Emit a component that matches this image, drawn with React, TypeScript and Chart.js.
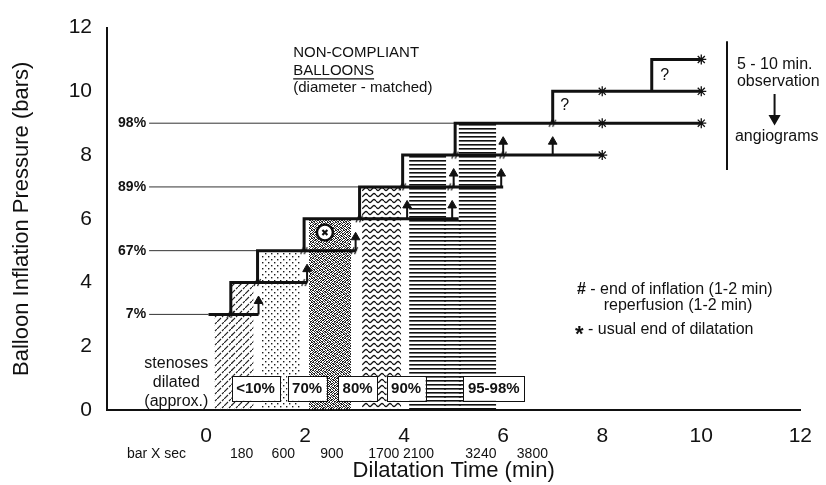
import React, { useEffect, useRef } from 'react';
import { Chart, registerables } from 'chart.js';

Chart.register(...registerables);

const FONT = '"Liberation Sans", Arial, Helvetica, sans-serif';
const INK = '#111111';

// ---- staircase (balloon pressure levels, bars) ----
const levels = [3, 4, 5, 6, 7, 8, 9, 10, 11];
const levelStart = [0.05, 0.5, 1.04, 1.98, 3.1, 3.97, 5.03, 7.0, 9.0];
const levelEnd = [1.06, 2.04, 3.02, 5.1, 6.0, 8.0, 10.0, 10.0, 10.0];

// reperfusion arrows
const arrowLevels = [3, 4, 5, 6, 6, 7, 7, 8, 8];
const arrowTimes = [1.06, 2.04, 3.02, 4.06, 4.97, 5.0, 5.96, 6.0, 7.0];
const arrowLength = 0.5;

// usual end of dilatation (*)
const starLevels = [8, 9, 9, 10, 10, 11];
const starTimes = [8, 8, 10, 8, 10, 10];

// end of inflation (#)
const hashLevels = [3, 4, 5, 6, 7, 8, 9, 4, 5, 7, 8];
const hashTimes = [0.5, 1.04, 1.98, 3.1, 3.97, 5.03, 7.0, 2.0, 3.0, 4.95, 6.0];

// reference percentage lines
const pctLabels = ['7%', '67%', '89%', '98%'];
const pctLevels = [3, 5, 7, 9];
const pctEnds = [0.05, 1.04, 3.1, 5.03];
const pctStart = -1.15;

// patterned areas (stenoses dilated)
const areaStart = [0.16, 0.5, 1.12, 2.08, 3.15, 4.1, 4.8, 5.1];
const areaEnd = [0.54, 0.96, 1.9, 2.93, 3.94, 4.85, 5.15, 5.86];
const areaTop = [3, 4, 5, 6, 7, 8, 6, 9];
const areaKind = ['hatch', 'hatch', 'dots', 'stipple', 'wavy', 'lines', 'lines', 'lines'];

const stenosisLabels = ['<10%', '70%', '80%', '90%', '95-98%'];
const stenosisX = [1.0, 2.04, 3.06, 4.04, 5.81];
const stenosisY = 0.68;

// secondary x labels (bar X sec)
const barSecLabels = ['180', '600', '900', '1700', '2100', '3240', '3800'];
const barSecX = [0.72, 1.56, 2.54, 3.59, 4.29, 5.55, 6.59];

// circled x marker
const circleX = [{ x: 2.4, y: 5.57 }];

const stippleBits = [
  '10110100',
  '01001011',
  '11010010',
  '00101101',
  '10010110',
  '01101001',
  '10100101',
  '01011010',
];

function makePatterns(ctx: CanvasRenderingContext2D) {
  const tile = (w: number, h: number, draw: (c: CanvasRenderingContext2D) => void) => {
    const cv = document.createElement('canvas');
    cv.width = w;
    cv.height = h;
    const c = cv.getContext('2d')!;
    draw(c);
    return ctx.createPattern(cv, 'repeat')!;
  };
  return {
    hatch: tile(7, 7, (c) => {
      c.strokeStyle = '#222';
      c.lineWidth = 1.1;
      c.beginPath();
      c.moveTo(0, 7);
      c.lineTo(4, 3);
      c.moveTo(5, 2);
      c.lineTo(7, 0);
      c.stroke();
    }),
    dots: tile(6, 6, (c) => {
      c.fillStyle = '#1a1a1a';
      c.fillRect(1, 1, 1.4, 1.4);
      c.fillRect(4, 4, 1.4, 1.4);
    }),
    stipple: tile(8, 8, (c) => {
      c.fillStyle = '#222';
      stippleBits.forEach((row, yy) => {
        for (let xx = 0; xx < row.length; xx++) if (row[xx] === '1') c.fillRect(xx, yy, 1, 1);
      });
    }),
    wavy: tile(8, 6, (c) => {
      c.strokeStyle = '#111';
      c.lineWidth = 1.3;
      c.beginPath();
      for (let i = 0; i <= 16; i++) {
        const xx = (i / 16) * 8;
        const yy = 3 + 1.5 * Math.sin((2 * Math.PI * xx) / 8);
        if (i === 0) c.moveTo(xx, yy);
        else c.lineTo(xx, yy);
      }
      c.stroke();
    }),
    lines: tile(4, 4, (c) => {
      c.fillStyle = '#111';
      c.fillRect(0, 0, 4, 1.6);
    }),
  } as Record<string, CanvasPattern>;
}

function makeHash() {
  const cv = document.createElement('canvas');
  cv.width = 9;
  cv.height = 9;
  const c = cv.getContext('2d')!;
  c.strokeStyle = '#111';
  c.lineWidth = 1.2;
  c.beginPath();
  c.moveTo(1, 8);
  c.lineTo(4, 1);
  c.moveTo(4.5, 8);
  c.lineTo(7.5, 1);
  c.stroke();
  return cv;
}

const annotationPlugin = {
  id: 'annotations',
  afterDraw(chart: any) {
    const { ctx, scales } = chart;
    const X = (v: number) => scales.x.getPixelForValue(v);
    const Y = (v: number) => scales.y.getPixelForValue(v);
    ctx.save();
    ctx.fillStyle = INK;
    ctx.strokeStyle = INK;
    ctx.textBaseline = 'middle';

    // percentage labels
    ctx.font = `bold 14px ${FONT}`;
    ctx.textAlign = 'right';
    pctLabels.forEach((t, i) => ctx.fillText(t, X(pctStart) - 3, Y(pctLevels[i])));

    // stenosis boxes
    ctx.font = `bold 15px ${FONT}`;
    ctx.textAlign = 'center';
    stenosisLabels.forEach((t, i) => {
      const w = ctx.measureText(t).width + 9;
      const h = 25;
      const cx = X(stenosisX[i]);
      const cy = Y(stenosisY);
      ctx.fillStyle = '#fff';
      ctx.fillRect(cx - w / 2, cy - h / 2, w, h);
      ctx.lineWidth = 1;
      ctx.strokeStyle = INK;
      ctx.strokeRect(Math.round(cx - w / 2) + 0.5, Math.round(cy - h / 2) + 0.5, Math.round(w), h);
      ctx.fillStyle = INK;
      ctx.fillText(t, cx, cy + 1);
    });

    // stenoses dilated (approx.)
    ctx.font = `16px ${FONT}`;
    ctx.textAlign = 'center';
    ctx.fillText('stenoses', X(-0.6), Y(1.46));
    ctx.fillText('dilated', X(-0.6), Y(0.87));
    ctx.fillText('(approx.)', X(-0.6), Y(0.25));

    // bar X sec row
    ctx.font = `14px ${FONT}`;
    ctx.fillText('bar X sec', X(-1.0), Y(-1.4));
    barSecLabels.forEach((t, i) => ctx.fillText(t, X(barSecX[i]), Y(-1.4)));

    // title block
    ctx.font = `15px ${FONT}`;
    ctx.textAlign = 'left';
    ctx.fillText('NON-COMPLIANT', X(1.76), Y(11.22));
    ctx.fillText('BALLOONS', X(1.76), Y(10.64));
    const bw = ctx.measureText('BALLOONS').width;
    ctx.lineWidth = 1.2;
    ctx.beginPath();
    ctx.moveTo(X(1.76), Y(10.64) + 8);
    ctx.lineTo(X(1.76) + bw, Y(10.64) + 8);
    ctx.stroke();
    ctx.fillText('(diameter - matched)', X(1.76), Y(10.11));

    // question marks
    ctx.font = `16px ${FONT}`;
    ctx.fillText('?', X(7.15), Y(9.55));
    ctx.fillText('?', X(9.17), Y(10.48));

    // legend
    ctx.font = `bold 16px ${FONT}`;
    ctx.fillText('#', X(7.49), Y(3.78));
    const hw = ctx.measureText('#').width;
    ctx.font = `16px ${FONT}`;
    ctx.fillText(' - end of inflation (1-2 min)', X(7.49) + hw, Y(3.78));
    ctx.fillText('reperfusion (1-2 min)', X(8.03), Y(3.29));
    ctx.font = `bold 22px ${FONT}`;
    ctx.fillText('*', X(7.45), Y(2.51) + 5);
    const aw = ctx.measureText('*').width;
    ctx.font = `16px ${FONT}`;
    ctx.fillText(' - usual end of dilatation', X(7.45) + aw, Y(2.51));

    // observation block
    ctx.fillText('5 - 10 min.', X(10.72), Y(10.85));
    ctx.fillText('observation', X(10.72), Y(10.29));
    ctx.fillText('angiograms', X(10.68), Y(8.59));

    ctx.restore();
  },
};

export default function App() {
  const ref = useRef<HTMLCanvasElement>(null);

  useEffect(() => {
    const canvas = ref.current!;
    const patterns = makePatterns(canvas.getContext('2d')!);
    const hashImg = makeHash();
    const datasets: any[] = [];

    // patterned areas
    areaStart.forEach((x0, i) => {
      datasets.push({
        data: [
          { x: x0, y: areaTop[i] },
          { x: areaEnd[i], y: areaTop[i] },
        ],
        borderWidth: 0,
        borderColor: 'rgba(0,0,0,0)',
        pointRadius: 0,
        fill: 'origin',
        backgroundColor: patterns[areaKind[i]],
        order: 30,
      });
    });

    // percentage reference lines
    pctLevels.forEach((lv, i) => {
      datasets.push({
        data: [
          { x: pctStart, y: lv },
          { x: pctEnds[i], y: lv },
        ],
        borderWidth: 1,
        borderColor: '#333',
        pointRadius: 0,
        fill: false,
        order: 20,
      });
    });

    // staircase
    levels.forEach((lv, i) => {
      const pts = i === 0 ? [] : [{ x: levelStart[i], y: lv - 1 }];
      pts.push({ x: levelStart[i], y: lv }, { x: levelEnd[i], y: lv });
      datasets.push({
        data: pts,
        borderWidth: 3,
        borderColor: INK,
        borderJoinStyle: 'miter',
        borderCapStyle: 'butt',
        pointRadius: 0,
        fill: false,
        order: 10,
      });
    });

    // arrows
    arrowTimes.forEach((t, i) => {
      datasets.push({
        data: [
          { x: t, y: arrowLevels[i] },
          { x: t, y: arrowLevels[i] + arrowLength - 0.08 },
        ],
        borderWidth: 2,
        borderColor: INK,
        pointRadius: [0, 5],
        pointStyle: 'triangle',
        pointBackgroundColor: INK,
        pointBorderColor: INK,
        pointBorderWidth: 1,
        fill: false,
        order: 5,
      });
    });

    // stars
    datasets.push({
      data: starTimes.map((t, i) => ({ x: t, y: starLevels[i] })),
      showLine: false,
      pointStyle: 'star',
      pointRadius: 5,
      pointBorderWidth: 1.3,
      pointBorderColor: INK,
      pointBackgroundColor: INK,
      order: 4,
    });

    // hashes
    datasets.push({
      data: hashTimes.map((t, i) => ({ x: t, y: hashLevels[i] })),
      showLine: false,
      pointStyle: hashImg,
      pointRadius: 4,
      order: 4,
    });

    // circled x
    datasets.push({
      data: circleX,
      showLine: false,
      pointStyle: 'crossRot',
      pointRadius: 3.5,
      pointBorderWidth: 2.2,
      pointBorderColor: INK,
      order: 1,
    });
    datasets.push({
      data: circleX,
      showLine: false,
      pointStyle: 'circle',
      pointRadius: 8,
      pointBorderWidth: 2.5,
      pointBorderColor: INK,
      pointBackgroundColor: '#fff',
      order: 2,
    });

    // observation bracket and arrow
    datasets.push({
      data: [
        { x: 10.52, y: 11.57 },
        { x: 10.52, y: 7.53 },
      ],
      borderWidth: 2,
      borderColor: INK,
      pointRadius: 0,
      fill: false,
      order: 5,
    });
    datasets.push({
      data: [
        { x: 11.48, y: 9.92 },
        { x: 11.48, y: 9.15 },
      ],
      borderWidth: 2,
      borderColor: INK,
      pointRadius: [0, 5],
      pointStyle: 'triangle',
      pointRotation: 180,
      pointBackgroundColor: INK,
      pointBorderColor: INK,
      fill: false,
      order: 5,
    });

    const chart = new Chart(canvas, {
      type: 'line',
      data: { datasets },
      options: {
        responsive: false,
        animation: false,
        events: [],
        layout: { padding: { top: 23, right: 20, left: 0, bottom: 0 } },
        plugins: { legend: { display: false }, tooltip: { enabled: false } },
        scales: {
          x: {
            type: 'linear',
            min: -2,
            max: 12,
            afterFit: (s: any) => {
              s.height = 75;
            },
            ticks: {
              stepSize: 2,
              padding: 14,
              color: INK,
              font: { size: 21, family: FONT },
              maxRotation: 0,
              autoSkip: false,
              callback: (v: any) => (v < 0 ? '' : String(v)),
            },
            grid: { display: false, drawTicks: false },
            border: { display: true, color: INK, width: 2 },
            title: {
              display: true,
              text: 'Dilatation Time (min)',
              color: INK,
              font: { size: 22, family: FONT },
              padding: { top: 0, bottom: 1 },
            },
          },
          y: {
            type: 'linear',
            min: 0,
            max: 12,
            afterFit: (s: any) => {
              s.width = 107;
            },
            ticks: {
              stepSize: 2,
              padding: 15,
              color: INK,
              font: { size: 21, family: FONT },
            },
            grid: { display: false, drawTicks: false },
            border: { display: true, color: INK, width: 2 },
            title: {
              display: true,
              text: 'Balloon Inflation Pressure (bars)',
              color: INK,
              font: { size: 22, family: FONT },
              padding: { top: 9, bottom: 0 },
            },
          },
        },
      },
      plugins: [annotationPlugin],
    });
    return () => chart.destroy();
  }, []);

  return (
    <div style={{ position: 'absolute', left: 0, top: 0, width: 826, height: 485, background: '#fff' }}>
      <canvas ref={ref} width={826} height={485} style={{ display: 'block' }} />
    </div>
  );
}
